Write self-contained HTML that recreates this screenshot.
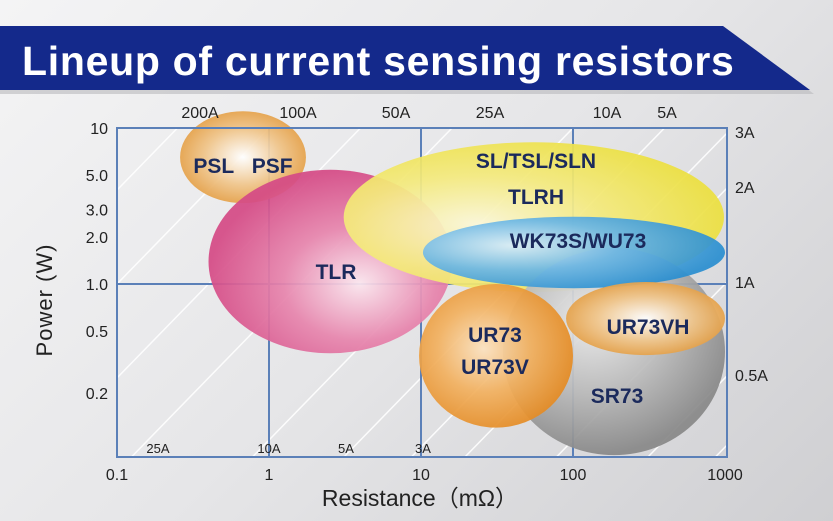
<!DOCTYPE html>
<html><head><meta charset="utf-8"><style>
html,body{margin:0;padding:0;width:833px;height:521px;overflow:hidden}
body{background:linear-gradient(135deg,#f4f4f5 0%,#e6e6e8 50%,#cfcfd2 100%);font-family:"Liberation Sans",sans-serif;position:relative}
svg{position:absolute;left:0;top:0;display:block}
</style></head><body>
<svg width="833" height="521" id="chart">
<defs>
<radialGradient id="gOr" cx="50%" cy="50%" r="55%"><stop offset="0" stop-color="#fff"/><stop offset="0.55" stop-color="#f0c58a"/><stop offset="1" stop-color="#e39a3c"/></radialGradient>
<radialGradient id="gPk" cx="62%" cy="62%" r="62%"><stop offset="0" stop-color="#fbe6ee"/><stop offset="0.5" stop-color="#e785ad"/><stop offset="1" stop-color="#d54b86"/></radialGradient>
<radialGradient id="gYe" cx="35%" cy="55%" r="65%"><stop offset="0" stop-color="#fbf7d8"/><stop offset="0.5" stop-color="#f4ea7e"/><stop offset="1" stop-color="#ece040"/></radialGradient>
<radialGradient id="gBl" cx="30%" cy="40%" r="70%"><stop offset="0" stop-color="#d7ecf8"/><stop offset="0.5" stop-color="#6cb7e4"/><stop offset="1" stop-color="#2b8fd0"/></radialGradient>
<radialGradient id="gGr" cx="40%" cy="35%" r="65%"><stop offset="0" stop-color="#ececec"/><stop offset="0.55" stop-color="#b8b8b8"/><stop offset="1" stop-color="#888"/></radialGradient>
<radialGradient id="gUr" cx="42%" cy="45%" r="60%"><stop offset="0" stop-color="#fbe2c0"/><stop offset="0.5" stop-color="#f2b160"/><stop offset="1" stop-color="#e48a22"/></radialGradient>
<clipPath id="plotClip"><rect x="117" y="128" width="610" height="329"/></clipPath>
</defs>
<polygon points="0,30 728,30 814,94 0,94" fill="#b9b9bd" opacity="0.6"/>
<polygon points="0,26 723,26 810,90 0,90" fill="#14298b"/>
<text x="22" y="75" fill="#fff" font-size="41" font-weight="bold" letter-spacing="0.7">Lineup of current sensing resistors</text>
<g id="lines" clip-path="url(#plotClip)"></g>
<g id="grid"></g>
<g id="bubbles"></g>
<g id="labels"></g>
<rect x="117" y="128" width="610" height="329" fill="none" stroke="#5b80b8" stroke-width="2"/>
<text x="0" y="0" font-size="22" fill="#222" letter-spacing="1" transform="translate(52 300) rotate(-90)" text-anchor="middle">Power (W)</text>
<text x="420" y="506" font-size="23" fill="#222" text-anchor="middle">Resistance（mΩ）</text>
</svg>
<script>
const xTicks=[0.1,1,10,100,1000];
const xTickLabels=["0.1","1","10","100","1000"];
const yTicks=[10,5,3,2,1,0.5,0.2];
const yTickLabels=["10","5.0","3.0","2.0","1.0","0.5","0.2"];
const currents=[400,200,100,50,25,10,5,3,2,1,0.5,0.3,0.2];
const topCurLabels=["200A","100A","50A","25A","10A","5A"];
const topCurX=[200,298,396,490,607,667];
const rightCurLabels=["3A","2A","1A","0.5A"];
const rightCurY=[132,187,282,375];
const botCurLabels=["25A","10A","5A","3A"];
const botCurX=[158,269,346,423];
const bubbleNames=["psl","tlr","sl-tsl-sln","sr73","wk73s","ur73","ur73vh"];
const bubbleRMin=[0.26,0.40,3.1,34.6,10.3,9.7,90];
const bubbleRMax=[1.75,16,985,1000,1000,100,1000];
const bubblePMin=[3.3,0.36,0.89,0.08,0.94,0.12,0.35];
const bubblePMax=[12.8,5.4,8.1,1.7,2.7,1.0,1.03];
const bubbleFill=["gOr","gPk","gYe","gGr","gBl","gUr","gOr"];
const bubbleText=[["PSL\u00a0\u00a0\u00a0PSF"],["TLR"],["SL/TSL/SLN","TLRH"],["SR73"],["WK73S/WU73"],["UR73","UR73V"],["UR73VH"]];
const textPos=[[243,165],[336,271],[536,178],[617,395],[578,240],[495,350],[648,326]];
const NS="http://www.w3.org/2000/svg";
const X=r=>117+152*(Math.log10(r)+1);
const Y=p=>284-156*Math.log10(p);
function mk(tag,attrs,parent,txt){const e=document.createElementNS(NS,tag);for(const k in attrs)e.setAttribute(k,attrs[k]);if(txt!==undefined)e.textContent=txt;parent.appendChild(e);return e;}
const gL=document.getElementById('lines'),gG=document.getElementById('grid'),gB=document.getElementById('bubbles'),gT=document.getElementById('labels');
currents.forEach(I=>{const p1=0.01,p2=100;const r1=p1*1000/(I*I),r2=p2*1000/(I*I);
const l=mk('line',{x1:X(r1),y1:Y(p1),x2:X(r2),y2:Y(p2),stroke:'#fff','stroke-width':1.5,opacity:0.9},gL);

});
[1,10,100].forEach(r=>{const l=mk('line',{x1:X(r),y1:128,x2:X(r),y2:457,stroke:'#5b80b8','stroke-width':2},gG);

});
const hl=mk('line',{x1:117,y1:Y(1),x2:727,y2:Y(1),stroke:'#5b80b8','stroke-width':2},gG);


bubbleNames.forEach((n,i)=>{const x1=X(bubbleRMin[i]),x2=X(bubbleRMax[i]),y1=Y(bubblePMax[i]),y2=Y(bubblePMin[i]);
const e=mk('ellipse',{cx:(x1+x2)/2,cy:(y1+y2)/2,rx:(x2-x1)/2,ry:(y2-y1)/2,fill:'url(#'+bubbleFill[i]+')',opacity:0.93},gB);


const lines=bubbleText[i];lines.forEach((t,j)=>{const ty=textPos[i][1]+(j-(lines.length-1)/2)*(i==2?36:32)+8;
const tx=mk('text',{x:textPos[i][0],y:ty,'font-size':21,'font-weight':'bold',fill:'#1b2a5c','text-anchor':'middle'},gB,t);

});});
xTicks.forEach((v,i)=>{const t=mk('text',{x:X(v),y:480,'font-size':16,fill:'#222','text-anchor':'middle'},gT,xTickLabels[i]);

});
yTicks.forEach((v,i)=>{const t=mk('text',{x:108,y:Y(v)+6,'font-size':16,fill:'#222','text-anchor':'end'},gT,yTickLabels[i]);

});
topCurLabels.forEach((s,i)=>{const t=mk('text',{x:topCurX[i],y:118,'font-size':16,fill:'#222','text-anchor':'middle'},gT,s);

});
rightCurLabels.forEach((s,i)=>{const t=mk('text',{x:735,y:rightCurY[i]+6,'font-size':16,fill:'#222'},gT,s);

});
botCurLabels.forEach((s,i)=>{const t=mk('text',{x:botCurX[i],y:453,'font-size':13,fill:'#222','text-anchor':'middle'},gT,s);

});
</script>
</body></html>
